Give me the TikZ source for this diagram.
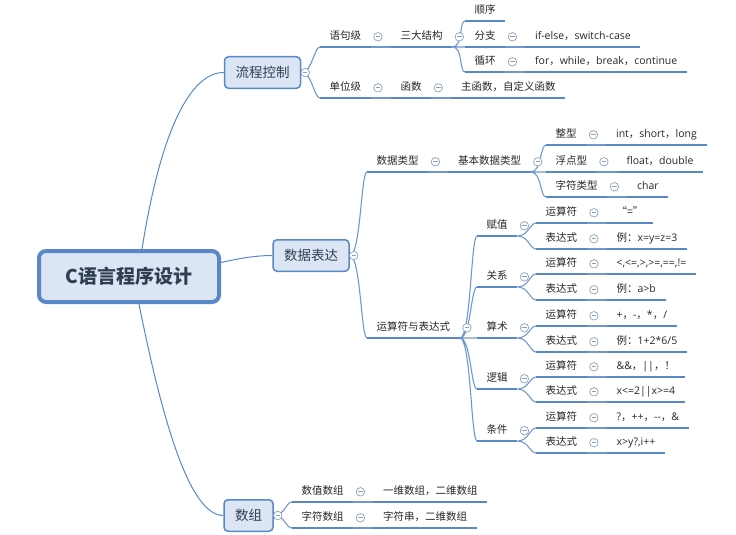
\documentclass[tikz,border=0pt]{standalone}
\usepackage{fontspec}
\setmainfont{Noto Sans CJK SC}
\newfontfamily\lat{Open Sans}
\usetikzlibrary{backgrounds}

\definecolor{lineblue}{RGB}{88,136,200}
\definecolor{linkblue}{RGB}{112,152,208}
\definecolor{boxfill}{RGB}{219,229,243}
\definecolor{boxtext}{RGB}{48,62,84}
\definecolor{foldgray}{RGB}{140,160,190}

\tikzset{
	topic/.style={anchor=south west, inner xsep=9.5pt, inner ysep=0pt, minimum height=20pt,
		text height=8pt, text depth=2pt, font=\fontsize{10.5}{12}\selectfont, text=black!85,
		append after command={(\tikzlastnode.south west) edge[underl] (\tikzlastnode.south east)}},
	underl/.style={draw=lineblue, line width=2.6pt},
	branch/.style={draw=lineblue, line width=1.5pt, fill=boxfill, rounded corners=4pt,
		minimum height=31.5pt, inner xsep=11pt, font=\fontsize{13.5}{15}\selectfont, text=boxtext},
	rootbox/.style={draw=lineblue, line width=4pt, fill=boxfill, rounded corners=7pt,
		minimum width=180pt, minimum height=51pt, font=\fontsize{19}{22}\selectfont\bfseries, text=boxtext},
	fold/.style={circle, draw=foldgray, fill=white, line width=0.7pt, minimum size=8.5pt, inner sep=0pt,
		path picture={\draw[foldgray, line width=0.7pt] ([xshift=-2.2pt]path picture bounding box.center) -- ([xshift=2.2pt]path picture bounding box.center);}},
	trunk/.style={lineblue, line width=1pt},
	link/.style={linkblue, line width=1.1pt},
	fork/.style={out=0, in=180, out distance=11pt, in distance=6pt},
}

\begin{document}
\begin{tikzpicture}[x=1pt, y=-1pt]
	\useasboundingbox (0,0) rectangle (736,535);

	% raiz e ramos principais
	\node[rootbox] (root) at (129,276.5) {C语言程序设计};
	\node[branch] (lckz) at (262.5,72.5) {流程控制};
	\node[branch] (sjbd) at (311,255.5) {数据表达};
	\node[branch] (sz) at (248.5,515.5) {数组};
	\node[fold] (f-lckz) at ([xshift=4pt]lckz.east) {};
	\node[fold] (f-sjbd) at ([xshift=4pt]sjbd.east) {};
	\node[fold] (f-sz) at ([xshift=4pt]sz.east) {};

	% flow control
	\node[topic] (yjj) at (320,47) {语句级};
	\node[fold] (f-yjj) at ([xshift=7pt]yjj.east) {};
	\node[topic] (sdjg) at ([xshift=20pt]yjj.south east) {三大结构};
	\node[fold] (f-sdjg) at ([xshift=7pt]sdjg.east) {};
	\node[topic] (sx) at (465,21) {顺序};
	\node[topic] (fz) at (465,47) {分支};
	\node[fold] (f-fz) at ([xshift=7pt]fz.east) {};
	\node[topic] (ifelse) at ([xshift=20pt]fz.south east) {{\lat if-else}，{\lat switch-case}};
	\node[topic] (xh) at (465,72) {循环};
	\node[fold] (f-xh) at ([xshift=7pt]xh.east) {};
	\node[topic] (forw) at ([xshift=20pt]xh.south east) {{\lat for}，{\lat while}，{\lat break}，{\lat continue}};
	\node[topic] (dwj) at (320,98) {单位级};
	\node[fold] (f-dwj) at ([xshift=7pt]dwj.east) {};
	\node[topic] (hs) at ([xshift=20pt]dwj.south east) {函数};
	\node[fold] (f-hs) at ([xshift=7pt]hs.east) {};
	\node[topic] (zhs) at ([xshift=20pt]hs.south east) {主函数，自定义函数};

	% data types
	\node[topic] (sjlx) at (367,172) {数据类型};
	\node[fold] (f-sjlx) at ([xshift=7pt]sjlx.east) {};
	\node[topic] (jbsj) at ([xshift=20pt]sjlx.south east) {基本数据类型};
	\node[fold] (f-jbsj) at ([xshift=7pt]jbsj.east) {};
	\node[topic] (zx) at (546,145) {整型};
	\node[fold] (f-zx) at ([xshift=7pt]zx.east) {};
	\node[topic] (intv) at ([xshift=20pt]zx.south east) {{\lat int}，{\lat short}，{\lat long}};
	\node[topic] (fdx) at (546,172) {浮点型};
	\node[fold] (f-fdx) at ([xshift=7pt]fdx.east) {};
	\node[topic] (floatv) at ([xshift=20pt]fdx.south east) {{\lat float}，{\lat double}};
	\node[topic] (zflx) at (546,197) {字符类型};
	\node[fold] (f-zflx) at ([xshift=7pt]zflx.east) {};
	\node[topic] (charv) at ([xshift=20pt]zflx.south east) {{\lat char}};

	% operadores
	\node[topic] (ysf) at (367,338) {运算符与表达式};
	\node[fold] (f-ysf) at ([xshift=7pt]ysf.east) {};
	\node[topic] (fuz) at (477,236) {赋值};
	\node[fold] (f-fuz) at ([xshift=7pt]fuz.east) {};
	\node[topic] (fuzys) at (536,223) {运算符};
	\node[fold] (f-fuzys) at ([xshift=7pt]fuzys.east) {};
	\node[topic] (fuzysv) at ([xshift=20pt]fuzys.south east) {“=”};
	\node[topic] (fuzbd) at (536,249) {表达式};
	\node[fold] (f-fuzbd) at ([xshift=7pt]fuzbd.east) {};
	\node[topic] (fuzbdv) at ([xshift=20pt]fuzbd.south east) {例：{\lat x=y=z=3}};
	\node[topic] (gx) at (477,287) {关系};
	\node[fold] (f-gx) at ([xshift=7pt]gx.east) {};
	\node[topic] (gxys) at (536,274) {运算符};
	\node[fold] (f-gxys) at ([xshift=7pt]gxys.east) {};
	\node[topic] (gxysv) at ([xshift=20pt]gxys.south east) {{\lat <,<=,>,>=,==,!=}};
	\node[topic] (gxbd) at (536,300) {表达式};
	\node[fold] (f-gxbd) at ([xshift=7pt]gxbd.east) {};
	\node[topic] (gxbdv) at ([xshift=20pt]gxbd.south east) {例：{\lat a>b}};
	\node[topic] (ss) at (477,338) {算术};
	\node[fold] (f-ss) at ([xshift=7pt]ss.east) {};
	\node[topic] (ssys) at (536,326) {运算符};
	\node[fold] (f-ssys) at ([xshift=7pt]ssys.east) {};
	\node[topic] (ssysv) at ([xshift=20pt]ssys.south east) {{\lat +}，{\lat -}，{\lat *}，{\lat /}};
	\node[topic] (ssbd) at (536,352) {表达式};
	\node[fold] (f-ssbd) at ([xshift=7pt]ssbd.east) {};
	\node[topic] (ssbdv) at ([xshift=20pt]ssbd.south east) {例：{\lat 1+2*6/5}};
	\node[topic] (lj) at (477,389) {逻辑};
	\node[fold] (f-lj) at ([xshift=7pt]lj.east) {};
	\node[topic] (ljys) at (536,377) {运算符};
	\node[fold] (f-ljys) at ([xshift=7pt]ljys.east) {};
	\node[topic] (ljysv) at ([xshift=20pt]ljys.south east) {{\lat \&\&}，{\lat ||}，！};
	\node[topic] (ljbd) at (536,402) {表达式};
	\node[fold] (f-ljbd) at ([xshift=7pt]ljbd.east) {};
	\node[topic] (ljbdv) at ([xshift=20pt]ljbd.south east) {{\lat x<=2||x>=4}};
	\node[topic] (tj) at (477,441) {条件};
	\node[fold] (f-tj) at ([xshift=7pt]tj.east) {};
	\node[topic] (tjys) at (536,428) {运算符};
	\node[fold] (f-tjys) at ([xshift=7pt]tjys.east) {};
	\node[topic] (tjysv) at ([xshift=20pt]tjys.south east) {{\lat ?}，{\lat ++}，{\lat -{}-}，{\lat \&}};
	\node[topic] (tjbd) at (536,453) {表达式};
	\node[fold] (f-tjbd) at ([xshift=7pt]tjbd.east) {};
	\node[topic] (tjbdv) at ([xshift=20pt]tjbd.south east) {{\lat x>y?,i++}};

	% arrays
	\node[topic] (szsz) at (292,502) {数值数组};
	\node[fold] (f-szsz) at ([xshift=7pt]szsz.east) {};
	\node[topic] (ywsz) at ([xshift=20pt]szsz.south east) {一维数组，二维数组};
	\node[topic] (zfsz) at (292,528) {字符数组};
	\node[fold] (f-zfsz) at ([xshift=7pt]zfsz.east) {};
	\node[topic] (zfc) at ([xshift=20pt]zfsz.south east) {字符串，二维数组};

	% as ligacoes
	\begin{scope}[on background layer]
		\draw[trunk] ([xshift=13pt]root.north) .. controls +(19,-120) and +(-33,0) .. (lckz.west);
		\draw[trunk] ([yshift=14pt]root.east) .. controls +(18,-4) and +(-17,0) .. (sjbd.west);
		\draw[trunk] ([xshift=10pt]root.south) .. controls +(24,120) and +(-33,0) .. (sz.west);

		\draw[link] (lckz.east) to[fork] (yjj.south west) (lckz.east) to[fork] (dwj.south west)
			(sdjg.south east) to[fork] (sx.south west) (sdjg.south east) to[fork] (fz.south west)
			(sdjg.south east) to[fork] (xh.south west)
			(sjbd.east) to[fork] (sjlx.south west) (sjbd.east) to[fork] (ysf.south west)
			(jbsj.south east) to[fork] (zx.south west) (jbsj.south east) to[fork] (fdx.south west)
			(jbsj.south east) to[fork] (zflx.south west)
			(ysf.south east) to[fork] (fuz.south west) (ysf.south east) to[fork] (gx.south west)
			(ysf.south east) to[fork] (ss.south west) (ysf.south east) to[fork] (lj.south west)
			(ysf.south east) to[fork] (tj.south west)
			(fuz.south east) to[fork] (fuzys.south west) (fuz.south east) to[fork] (fuzbd.south west)
			(gx.south east) to[fork] (gxys.south west) (gx.south east) to[fork] (gxbd.south west)
			(ss.south east) to[fork] (ssys.south west) (ss.south east) to[fork] (ssbd.south west)
			(lj.south east) to[fork] (ljys.south west) (lj.south east) to[fork] (ljbd.south west)
			(tj.south east) to[fork] (tjys.south west) (tj.south east) to[fork] (tjbd.south west)
			(sz.east) to[fork] (szsz.south west) (sz.east) to[fork] (zfsz.south west);

		\draw[link] (yjj.south east) -- (sdjg.south west) (fz.south east) -- (ifelse.south west)
			(xh.south east) -- (forw.south west) (dwj.south east) -- (hs.south west)
			(hs.south east) -- (zhs.south west) (sjlx.south east) -- (jbsj.south west)
			(zx.south east) -- (intv.south west) (fdx.south east) -- (floatv.south west)
			(zflx.south east) -- (charv.south west)
			(fuzys.south east) -- (fuzysv.south west) (fuzbd.south east) -- (fuzbdv.south west)
			(gxys.south east) -- (gxysv.south west) (gxbd.south east) -- (gxbdv.south west)
			(ssys.south east) -- (ssysv.south west) (ssbd.south east) -- (ssbdv.south west)
			(ljys.south east) -- (ljysv.south west) (ljbd.south east) -- (ljbdv.south west)
			(tjys.south east) -- (tjysv.south west) (tjbd.south east) -- (tjbdv.south west)
			(szsz.south east) -- (ywsz.south west) (zfsz.south east) -- (zfc.south west);
	\end{scope}
\end{tikzpicture}
\end{document}
